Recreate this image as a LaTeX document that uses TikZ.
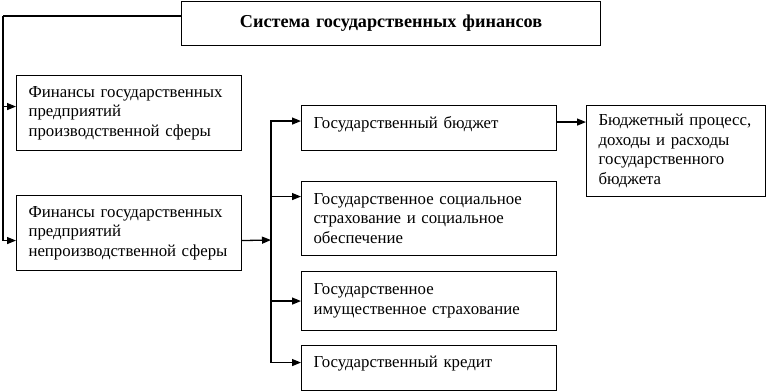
\documentclass[tikz,border=0pt]{standalone}
\usepackage{fontspec}
\setmainfont{Liberation Serif}
\usetikzlibrary{arrows.meta, positioning}

\tikzset{
  blk/.style={draw, line width=1.1pt, anchor=north west, inner xsep=12pt, inner ysep=0pt,
    align=left, font=\fontsize{16.8}{19.5}\selectfont},
  arr/.style={line width=1.3pt, -{Triangle[length=9pt, width=7pt]}},
  ln/.style={line width=1.3pt}
}

\begin{document}
\begin{tikzpicture}[x=1pt, y=1pt]
\useasboundingbox (0,0) rectangle (766,-391);

% boxes
\node[blk, text width=395pt, minimum height=44pt, align=center,
  font=\fontsize{18.2}{20}\selectfont\bfseries] (sys) at (181,-1) {Система государственных финансов};
\node[blk, text width=201pt, minimum height=75pt] (fpr) at (16,-75)
  {Финансы государственных\\предприятий\\производственной сферы};
\node[blk, text width=201pt, minimum height=75pt] (fnp) at (16,-195)
  {Финансы государственных\\предприятий\\непроизводственной сферы};
\node[blk, text width=231pt, text height=23pt, text depth=22pt] (bud) at (301,-105)
  {Государственный бюджет};
\node[blk, text width=231pt, minimum height=74pt] (soc) at (301,-181)
  {Государственное социальное\\страхование и социальное\\обеспечение};
\node[blk, text width=231pt, minimum height=59pt] (ims) at (301,-271)
  {Государственное\\имущественное страхование};
\node[blk, text width=231pt, text height=22pt, text depth=23pt] (kre) at (301,-345)
  {Государственный кредит};
\node[blk, text width=155pt, minimum height=91pt] (prc) at (586,-105)
  {Бюджетный процесс,\\доходы и расходы\\государственного\\бюджета};

% left bus
\coordinate (lt) at (3,-16);
\coordinate (a1) at ([yshift=6.5pt]fpr.west);
\coordinate (a2) at ([yshift=-7.5pt]fnp.west);
\draw[ln] (sys.west |- lt) -- (lt);
\draw[arr] (lt) |- (a2);
\draw[arr] (a1 -| lt) -- (a1);

% right bus
\coordinate (b2) at ([yshift=-7.5pt]fnp.east);
\coordinate (bus) at (271,-240);
\coordinate (a3) at ([yshift=7pt]bud.west);
\coordinate (a4) at ([yshift=22pt]soc.west);
\coordinate (a5) at (ims.west);
\coordinate (a6) at ([yshift=5.5pt]kre.west);
\draw[arr] (b2) -- (bus);
\foreach \t in {a3, a4, a5, a6}
  \draw[arr] (bus) |- (\t);

% budget to process
\coordinate (b3) at ([yshift=6pt]bud.east);
\draw[arr] (b3) -- (b3 -| prc.west);
\end{tikzpicture}
\end{document}
